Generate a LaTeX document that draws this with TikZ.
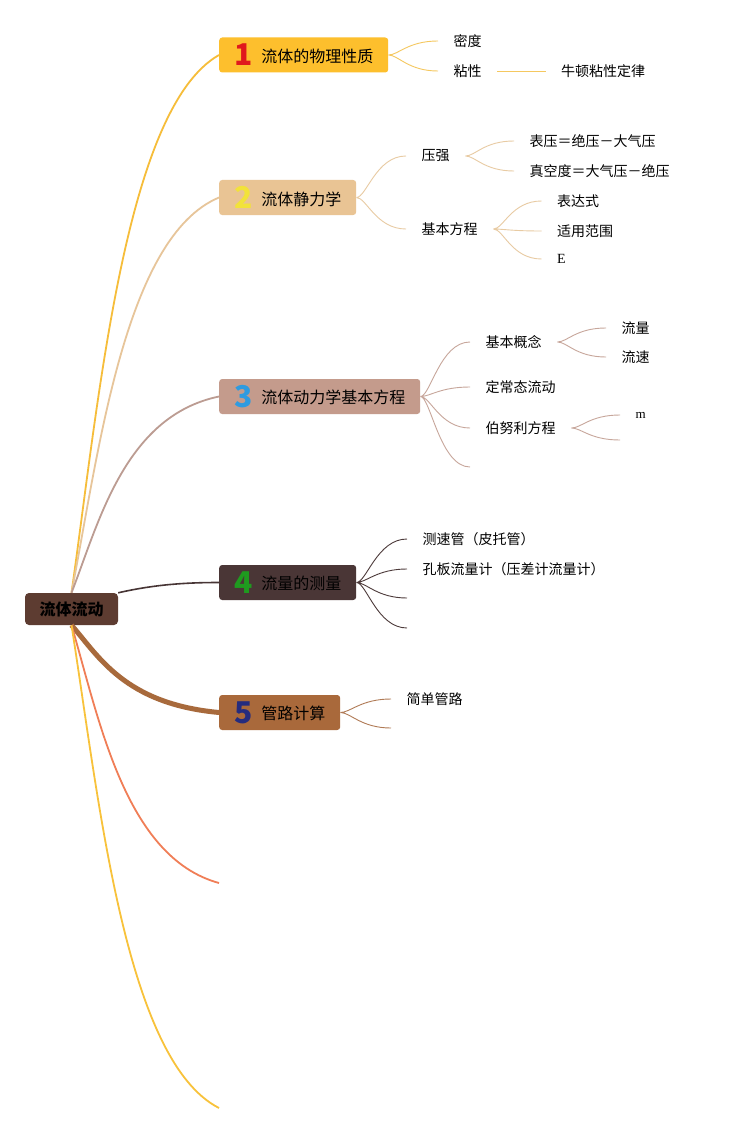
\documentclass[tikz,border=0pt]{standalone}
\usepackage{fontspec}
\setmainfont{Noto Sans CJK SC}
\newfontfamily\romanfont{Liberation Serif}
\usetikzlibrary{calc}
\definecolor{rootfill}{HTML}{5D3C31}
\definecolor{fillA}{HTML}{FDBF2D}
\definecolor{fillB}{HTML}{E9C494}
\definecolor{fillC}{HTML}{C49B8C}
\definecolor{fillD}{HTML}{4A3636}
\definecolor{fillE}{HTML}{A9693B}
\definecolor{lineA}{HTML}{F6BD3A}
\definecolor{lineB}{HTML}{E7C59A}
\definecolor{lineC}{HTML}{BC9C92}
\definecolor{lineD}{HTML}{473535}
\definecolor{lineE}{HTML}{A86A3C}
\definecolor{lineF}{HTML}{F07E57}
\definecolor{lineG}{HTML}{F8C23B}
\definecolor{twigA}{HTML}{F5C860}
\definecolor{twigB}{HTML}{E8CBA3}
\definecolor{twigC}{HTML}{C7A69B}
\definecolor{twigD}{HTML}{4D3B3B}
\definecolor{twigE}{HTML}{B07A55}
\definecolor{numA}{HTML}{E0191D}
\definecolor{numB}{HTML}{F2E23A}
\definecolor{numC}{HTML}{2F9BE0}
\definecolor{numD}{HTML}{1F9A1F}
\definecolor{numE}{HTML}{252C7E}
\newcommand{\badge}[2]{\raisebox{-3.5pt}{\fontsize{30}{30}\selectfont\bfseries\color{#1}#2}\hspace{9pt}}

\begin{document}
\begin{tikzpicture}[x=1pt,y=-1pt,
  topic/.style={anchor=west, rounded corners=3pt, minimum height=35pt, inner xsep=0pt, text=black, font=\fontsize{16}{18}\selectfont},
  leaf/.style={anchor=west, inner xsep=15.5pt, inner ysep=1pt, font=\fontsize{14}{16}\selectfont},
  limb/.style={line width=1.8pt, to path={let \p1=(\tikztostart), \p2=(\tikztotarget) in
    .. controls ({\x1+0.185*(\x2-\x1)},{\y1+0.357*(\y2-\y1)}) and ({\x2-0.64*(\x2-\x1)},{\y2-0.1*(\y2-\y1)}) .. (\tikztotarget)}},
  twig/.style={line width=0.9pt, to path={.. controls +(10,0) and +(-30,0) .. (\tikztotarget)}}]
\fill[white] (0,0) rectangle (729,1134);
\useasboundingbox (0,0) rectangle (729,1134);

\node[fill=rootfill, rounded corners=4pt, minimum width=93pt, minimum height=32pt, font=\fontsize{16}{18}\selectfont\bfseries] (root) at (71.5,609) {流体流动};
\node[topic, fill=fillA, minimum width=169pt] (t1) at (219,55) {\badge{numA}{1}流体的物理性质};
\node[topic, fill=fillB, minimum width=137pt] (t2) at (219,197.5) {\badge{numB}{2}流体静力学};
\node[topic, fill=fillC, minimum width=201pt] (t3) at (219,396.5) {\badge{numC}{3}流体动力学基本方程};
\node[topic, fill=fillD, minimum width=137pt] (t4) at (219,582.5) {\badge{numD}{4}流量的测量};
\node[topic, fill=fillE, minimum width=121pt] (t5) at (219,712.5) {\badge{numE}{5}管路计算};
\coordinate (endF) at (219,883);
\coordinate (endG) at (219,1108);

\node[leaf] (midu) at (438,41) {密度};
\node[leaf] (nianxing) at (438,71) {粘性};
\node[leaf] (niudun) at (545.5,71) {牛顿粘性定律};
\node[leaf] (yaqiang) at (406,156) {压强};
\node[leaf] (jiben) at (406,229) {基本方程};
\node[leaf] (biaoya) at (514,141) {表压＝绝压－大气压};
\node[leaf] (zhenkong) at (514,171) {真空度＝大气压－绝压};
\node[leaf] (biaodashi) at (541.5,201) {表达式};
\node[leaf] (shiyong) at (541.5,231) {适用范围};
\node[leaf, font=\romanfont\fontsize{14}{16}\selectfont] (eq) at (541.5,259) {E};
\node[leaf] (gainian) at (470,342) {基本概念};
\node[leaf] (dingchang) at (470,387) {定常态流动};
\node[leaf] (bernoulli) at (470,428) {伯努利方程};
\coordinate (t3last) at (470,467);
\node[leaf] (liuliang) at (606,328) {流量};
\node[leaf] (liusu) at (606,357) {流速};
\node[leaf, font=\romanfont\fontsize{13}{15}\selectfont] (mass) at (620,415) {m};
\coordinate (blast) at (620,440);
\node[leaf] (cesu) at (407,539) {测速管（皮托管）};
\node[leaf] (kongban) at (407,569) {孔板流量计（压差计流量计）};
\coordinate (t4c) at (407,598);
\coordinate (t4d) at (407,628);
\node[leaf] (jiandan) at (391,699) {简单管路};
\coordinate (t5b) at (391,728);

\draw[limb, lineA] (root.north) to (t1.west);
\draw[limb, lineB] (root.north) to (t2.west);
\draw[limb, lineC] (root.north) to (t3.west);
\draw[lineD, line width=1.6pt] (root.north east) .. controls +(35,-8) and +(-35,0) .. (t4.west);
\draw[limb, lineE, line width=5pt] (root.south) to (t5.west);
\draw[limb, lineF] (root.south) to (endF);
\draw[limb, lineG] (root.south) to (endG);

\draw[twig, twigA] (t1.east) to (midu.west) (t1.east) to (nianxing.west);
\draw[twigA, line width=0.9pt] (nianxing.east) -- (niudun.west);
\draw[twig, twigB] (t2.east) to (yaqiang.west) (t2.east) to (jiben.west);
\draw[twig, twigB] (yaqiang.east) to (biaoya.west) (yaqiang.east) to (zhenkong.west);
\draw[twig, twigB] (jiben.east) to (biaodashi.west) (jiben.east) to (shiyong.west) (jiben.east) to (eq.west);
\draw[twig, twigC] (t3.east) to (gainian.west) (t3.east) to (dingchang.west) (t3.east) to (bernoulli.west) (t3.east) to (t3last);
\draw[twig, twigC] (gainian.east) to (liuliang.west) (gainian.east) to (liusu.west);
\draw[twig, twigC] (bernoulli.east) to (mass.west) (bernoulli.east) to (blast);
\draw[twig, twigD] (t4.east) to (cesu.west) (t4.east) to (kongban.west) (t4.east) to (t4c) (t4.east) to (t4d);
\draw[twig, twigE] (t5.east) to (jiandan.west) (t5.east) to (t5b);
\end{tikzpicture}
\end{document}
